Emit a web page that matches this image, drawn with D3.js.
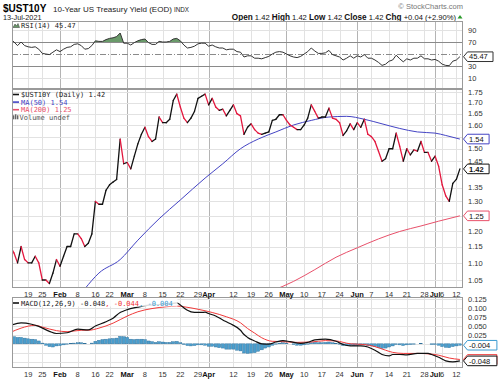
<!DOCTYPE html>
<html><head><meta charset="utf-8">
<script src="https://cdn.jsdelivr.net/npm/d3@7"></script>
<style>body{margin:0;background:#fff}svg{display:block}</style>
</head><body>
<svg id="c" width="500" height="379"></svg>
<script>
// ---------------- DATA ----------------
const dates = [
"2021-01-11","2021-01-12","2021-01-13","2021-01-14","2021-01-15","2021-01-19","2021-01-20","2021-01-21","2021-01-22","2021-01-25","2021-01-26","2021-01-27","2021-01-28","2021-01-29",
"2021-02-01","2021-02-02","2021-02-03","2021-02-04","2021-02-05","2021-02-08","2021-02-09","2021-02-10","2021-02-11","2021-02-12","2021-02-16","2021-02-17","2021-02-18","2021-02-19","2021-02-22","2021-02-23","2021-02-24","2021-02-25","2021-02-26",
"2021-03-01","2021-03-02","2021-03-03","2021-03-04","2021-03-05","2021-03-08","2021-03-09","2021-03-10","2021-03-11","2021-03-12","2021-03-15","2021-03-16","2021-03-17","2021-03-18","2021-03-19","2021-03-22","2021-03-23","2021-03-24","2021-03-25","2021-03-26","2021-03-29","2021-03-30","2021-03-31",
"2021-04-01","2021-04-02","2021-04-05","2021-04-06","2021-04-07","2021-04-08","2021-04-09","2021-04-12","2021-04-13","2021-04-14","2021-04-15","2021-04-16","2021-04-19","2021-04-20","2021-04-21","2021-04-22","2021-04-23","2021-04-26","2021-04-27","2021-04-28","2021-04-29","2021-04-30",
"2021-05-03","2021-05-04","2021-05-05","2021-05-06","2021-05-07","2021-05-10","2021-05-11","2021-05-12","2021-05-13","2021-05-14","2021-05-17","2021-05-18","2021-05-19","2021-05-20","2021-05-21","2021-05-24","2021-05-25","2021-05-26","2021-05-27","2021-05-28",
"2021-06-01","2021-06-02","2021-06-03","2021-06-04","2021-06-07","2021-06-08","2021-06-09","2021-06-10","2021-06-11","2021-06-14","2021-06-15","2021-06-16","2021-06-17","2021-06-18","2021-06-21","2021-06-22","2021-06-23","2021-06-24","2021-06-25","2021-06-28","2021-06-29","2021-06-30",
"2021-07-01","2021-07-02","2021-07-06","2021-07-07","2021-07-08","2021-07-09","2021-07-12","2021-07-13"];

const closeValues = [
1.15,1.13,1.10,1.15,1.11,1.10,1.10,1.12,1.10,1.05,1.05,1.04,1.07,1.11,
1.09,1.12,1.15,1.15,1.19,1.19,1.175,1.15,1.16,1.19,1.30,1.29,1.29,1.34,1.36,1.37,1.38,1.54,1.44,
1.445,1.42,1.47,1.52,1.56,1.59,1.55,1.53,1.54,1.635,1.61,1.61,1.625,1.71,1.74,1.68,1.63,1.61,1.63,1.66,1.72,1.73,1.74,
1.69,1.72,1.68,1.665,1.67,1.64,1.665,1.69,1.65,1.64,1.56,1.59,1.605,1.58,1.565,1.56,1.565,1.57,1.62,1.625,1.645,1.645,
1.62,1.60,1.59,1.58,1.58,1.60,1.63,1.69,1.66,1.63,1.635,1.635,1.675,1.63,1.625,1.61,1.555,1.575,1.605,1.58,
1.61,1.59,1.625,1.56,1.55,1.53,1.49,1.45,1.46,1.50,1.50,1.565,1.51,1.45,1.50,1.475,1.495,1.49,1.53,1.485,1.485,1.45,
1.47,1.43,1.36,1.32,1.30,1.365,1.38,1.42];

const rsiValues = [
75,70,64,70,64,62,61,62,58,51,50,49,53,57,
54,58,61,62,66,67,64,58,59,64,72,71,71,74,76,77,79,85,68,
68,65,69,72,74,75,69,66,66,71,70,70,71,75,76,72,65,60,61,63,67,68,68,
63,65,62,60,60,57,58,58,54,53,45,47,47,43,43,42,44,46,50,53,54,53,
50,47,45,44,46,50,54,60,55,51,51,52,56,49,47,45,40,43,47,43,
47,45,49,43,43,40,36,31,33,38,40,48,42,37,42,40,43,43,47,42,42,40,
41,38,33,31,30.5,38,40,45.47];

const ma50Dates  = ["2021-02-10","2021-02-17","2021-02-25","2021-03-04","2021-03-12","2021-03-22","2021-03-31","2021-04-07","2021-04-14","2021-04-21","2021-04-28","2021-05-05","2021-05-12","2021-05-19","2021-05-26","2021-06-03","2021-06-10","2021-06-17","2021-06-24","2021-07-01","2021-07-07","2021-07-13"];
const ma50Values = [1.025,1.07,1.11,1.17,1.24,1.305,1.385,1.44,1.50,1.54,1.57,1.60,1.62,1.635,1.638,1.625,1.605,1.585,1.57,1.565,1.555,1.54];

const ma200Dates  = ["2021-04-27","2021-05-05","2021-05-13","2021-05-21","2021-06-01","2021-06-09","2021-06-17","2021-06-25","2021-07-02","2021-07-13"];
const ma200Values = [1.02,1.046,1.08,1.117,1.146,1.174,1.198,1.216,1.232,1.25];

const macdDates = ["2021-01-11","2021-01-14","2021-01-20","2021-01-22","2021-01-27","2021-01-29","2021-02-03","2021-02-08","2021-02-11","2021-02-16","2021-02-19","2021-02-23","2021-02-25","2021-02-26","2021-03-01","2021-03-04","2021-03-08","2021-03-12","2021-03-17","2021-03-19","2021-03-22","2021-03-23","2021-03-24","2021-03-26","2021-03-30","2021-03-31","2021-04-01","2021-04-05","2021-04-07","2021-04-09","2021-04-14","2021-04-15","2021-04-16","2021-04-20","2021-04-22","2021-04-26","2021-04-28","2021-04-30","2021-05-04","2021-05-07","2021-05-11","2021-05-13","2021-05-18","2021-05-21","2021-05-25","2021-05-27","2021-06-02","2021-06-04","2021-06-08","2021-06-10","2021-06-14","2021-06-15","2021-06-17","2021-06-21","2021-06-24","2021-06-29","2021-06-30","2021-07-02","2021-07-07","2021-07-09","2021-07-13"];
const macdValues = [0.052,0.059,0.055,0.049,0.035,0.029,0.031,0.041,0.039,0.050,0.062,0.072,0.088,0.092,0.096,0.103,0.107,0.110,0.112,0.115,0.109,0.101,0.094,0.088,0.088,0.089,0.085,0.078,0.067,0.057,0.038,0.026,0.018,0.008,0.000,-0.001,0.005,0.009,0.006,0.001,0.004,0.011,0.013,0.007,-0.002,-0.006,-0.006,-0.009,-0.018,-0.030,-0.034,-0.030,-0.030,-0.031,-0.027,-0.027,-0.030,-0.038,-0.048,-0.051,-0.048];

const signalDates = ["2021-01-11","2021-01-14","2021-01-21","2021-01-25","2021-01-29","2021-02-03","2021-02-09","2021-02-11","2021-02-17","2021-02-23","2021-03-01","2021-03-04","2021-03-10","2021-03-16","2021-03-19","2021-03-23","2021-03-29","2021-04-02","2021-04-08","2021-04-14","2021-04-16","2021-04-20","2021-04-22","2021-04-27","2021-04-30","2021-05-06","2021-05-12","2021-05-18","2021-05-21","2021-05-27","2021-06-03","2021-06-08","2021-06-11","2021-06-15","2021-06-18","2021-06-24","2021-06-30","2021-07-02","2021-07-08","2021-07-13"];
const signalValues = [0.032,0.044,0.052,0.047,0.037,0.034,0.038,0.038,0.044,0.058,0.078,0.090,0.099,0.104,0.106,0.104,0.097,0.088,0.076,0.059,0.043,0.030,0.017,0.007,0.006,0.004,0.005,0.009,0.008,0.000,-0.002,-0.008,-0.018,-0.024,-0.027,-0.027,-0.029,-0.032,-0.040,-0.044];

const histValues = [
0.020,0.020,0.018,0.018,0.016,0.014,0.013,0.012,0.008,0.002,-0.004,-0.008,-0.009,-0.006,
-0.005,-0.003,-0.001,0.001,0.002,0.003,0.003,0.001,0.000,0.002,0.007,0.010,0.012,0.013,0.014,0.015,0.016,0.021,0.020,
0.018,0.013,0.012,0.013,0.013,0.012,0.008,0.006,0.004,0.006,0.005,0.004,0.004,0.006,0.007,0.003,-0.002,-0.005,-0.006,-0.005,-0.003,-0.003,-0.004,
-0.007,-0.007,-0.009,-0.011,-0.012,-0.015,-0.015,-0.015,-0.018,-0.020,-0.026,-0.027,-0.026,-0.025,-0.021,-0.017,-0.012,-0.009,-0.004,-0.001,0.002,0.003,
0.002,0.000,-0.002,-0.004,-0.004,-0.003,-0.001,0.003,0.004,0.003,0.003,0.004,0.005,0.003,0.001,-0.001,-0.005,-0.005,-0.004,-0.005,
-0.004,-0.003,-0.002,-0.005,-0.006,-0.008,-0.011,-0.013,-0.012,-0.009,-0.006,-0.002,-0.003,-0.005,-0.003,-0.002,-0.001,0.000,0.001,0.000,0.000,-0.002,
-0.002,-0.004,-0.008,-0.010,-0.011,-0.008,-0.006,-0.004];

const tickDates  = ["2021-01-19","2021-01-25","2021-02-01","2021-02-08","2021-02-16","2021-02-22","2021-03-01","2021-03-08","2021-03-15","2021-03-22","2021-03-29","2021-04-01","2021-04-12","2021-04-19","2021-04-26","2021-05-03","2021-05-10","2021-05-17","2021-05-24","2021-06-01","2021-06-07","2021-06-14","2021-06-21","2021-06-28","2021-07-01","2021-07-06","2021-07-12"];
const tickLabels = ["19","25","Feb","8","16","22","Mar","8","15","22","29","Apr","12","19","26","May","10","17","24","Jun","7","14","21","28","Jul","6","12"];

const priceTicks = [1.05,1.10,1.15,1.20,1.25,1.30,1.35,1.40,1.45,1.50,1.55,1.60,1.65,1.70,1.75];
const rsiTicks = [10,30,50,70,90];
const macdTicks = [-0.05,-0.025,0,0.025,0.05,0.075,0.10,0.125];

const lastClose = 1.42, lastMa50 = 1.54, lastMa200 = 1.25, lastRsi = 45.47;
const lastMacd = -0.048, lastSignal = -0.044, lastHist = -0.004;

// ---------------- DRAW ----------------
const svg = d3.select("#c");
const FONT = "'Liberation Sans', Arial, sans-serif";
const LFONT = "'DejaVu Sans Mono', monospace";
const L = 12, R = 463;
const P = { rsi:[21,89], main:[89,288], macd:[297,368] };
const idx = new Map(dates.map((d,i)=>[d,i]));
const x = d3.scaleLinear().domain([0.433,127.88]).range([L,R]);
const xd = d => x(idx.get(d));
const yP = d3.scaleLog().domain([1.05,1.75]).range([280,92]);
const yR = d3.scaleLinear().domain([10,90]).range([78,30]);
const yM = d3.scaleLinear().domain([-0.05,0.125]).range([361.6,299.3]);

const RED = "#e3173e", BLUE = "#4444c4", MA200C = "#e8506a", SIG = "#f03a3a", HIST = "#4a9dcc";

const defs = svg.append("defs");
Object.entries(P).forEach(([k,[t,b]]) => {
  defs.append("clipPath").attr("id","clip-"+k).append("rect").attr("x",L).attr("y",t).attr("width",R-L).attr("height",b-t);
});
defs.append("clipPath").attr("id","clip-rsi70").append("rect").attr("x",L).attr("y",P.rsi[0]).attr("width",R-L).attr("height",yR(70)-P.rsi[0]);

// header
svg.append("text").attr("x",3).attr("y",11.5).attr("font-family",FONT).attr("font-size",10).attr("font-weight","bold").text("$UST10Y");
svg.append("text").attr("x",53).attr("y",11.5).attr("font-family",FONT).attr("font-size",8).attr("fill","#222").text("10-Year US Treasury Yield (EOD)");
svg.append("text").attr("x",174).attr("y",11.5).attr("font-family",FONT).attr("font-size",6.3).attr("fill","#222").text("INDX");
svg.append("text").attr("x",3).attr("y",20).attr("font-family",FONT).attr("font-size",7.3).attr("fill","#222").text("13-Jul-2021");
svg.append("text").attr("x",463).attr("y",9).attr("text-anchor","end").attr("font-family",FONT).attr("font-size",7.5).attr("fill","#777").text("© StockCharts.com");
const ohlc = svg.append("text").attr("x",456).attr("y",19.5).attr("text-anchor","end").attr("font-family",FONT).attr("font-size",8).attr("fill","#111");
[["Open",1],[" 1.42 ",0],["High",1],[" 1.42 ",0],["Low",1],[" 1.42 ",0],["Close",1],[" 1.42 ",0],["Chg",1],[" +0.04 (+2.90%)",0]]
  .forEach(([t,b]) => ohlc.append("tspan").attr("font-weight", b?"bold":"normal").attr("font-size", b?8.2:7.6).text(t));
svg.append("path").attr("d","M457.5,18.5 L462.5,18.5 L460,15 Z").attr("fill","#2a9a2a");

// panels backgrounds + grids
function vgrid(g, k) {
  const [t,b] = P[k];
  g.selectAll(null).data(tickDates).join("line")
    .attr("x1",d=>Math.round(xd(d))+0.5).attr("x2",d=>Math.round(xd(d))+0.5).attr("y1",t).attr("y2",b)
    .attr("stroke",(d,i)=>isNaN(+tickLabels[i])?"#b4b4b4":"#e2e2e2").attr("stroke-width",1);
}
function hgrid(g, ticks, y) {
  g.selectAll(null).data(ticks).join("line")
    .attr("x1",L).attr("x2",R).attr("y1",d=>Math.round(y(d))+0.5).attr("y2",d=>Math.round(y(d))+0.5)
    .attr("stroke","#e2e2e2");
}
const gR = svg.append("g"), gMn = svg.append("g"), gMc = svg.append("g");
[["rsi",gR],["main",gMn],["macd",gMc]].forEach(([k,g]) => {
  g.append("rect").attr("x",L).attr("y",P[k][0]).attr("width",R-L).attr("height",P[k][1]-P[k][0]).attr("fill","#fff");
  vgrid(g,k);
});
hgrid(gR,[10,90],yR);
hgrid(gMn,priceTicks,yP);
hgrid(gMc,macdTicks,yM);

// ---- RSI ----
const cR = gR.append("g").attr("clip-path","url(#clip-rsi)");
cR.selectAll(null).data([30,70]).join("line").attr("x1",L).attr("x2",R)
  .attr("y1",d=>Math.round(yR(d))+0.5).attr("y2",d=>Math.round(yR(d))+0.5).attr("stroke","#8a8a8a");
cR.append("line").attr("x1",L).attr("x2",R).attr("y1",Math.round(yR(50))+0.5).attr("y2",Math.round(yR(50))+0.5)
  .attr("stroke","#8a8a8a").attr("stroke-dasharray","6,2,1,2");
cR.append("path").attr("clip-path","url(#clip-rsi70)")
  .attr("d", d3.area().x((d,i)=>x(i)).y0(yR(70)).y1(d=>yR(d))(rsiValues))
  .attr("fill","#6a9a6a");
cR.append("path").attr("d", d3.line().x((d,i)=>x(i)).y(d=>yR(d))(rsiValues))
  .attr("fill","none").attr("stroke","#333").attr("stroke-width",1);

// ---- MAIN ----
const cM = gMn.append("g").attr("clip-path","url(#clip-main)");
const smooth = d3.line().curve(d3.curveMonotoneX).x(d=>d[0]).y(d=>d[1]);
cM.append("path").attr("d", smooth(ma200Dates.map((d,i)=>[xd(d), yP(ma200Values[i])]))).attr("fill","none").attr("stroke",MA200C).attr("stroke-width",1);
cM.append("path").attr("d", smooth(ma50Dates.map((d,i)=>[xd(d), yP(ma50Values[i])]))).attr("fill","none").attr("stroke",BLUE).attr("stroke-width",1);
const pairs = d3.range(1, closeValues.length).map(i => ({i, a:closeValues[i-1], b:closeValues[i]}));
cM.selectAll(null).data(pairs).join("line")
  .attr("x1",d=>x(d.i-1)).attr("y1",d=>yP(d.a)).attr("x2",d=>x(d.i)).attr("y2",d=>yP(d.b))
  .attr("stroke",d=>d.b>=d.a?"#111":RED).attr("stroke-width",1.3).attr("stroke-linecap","round");

// legend main
const lg = gMn.append("g").attr("font-family",LFONT).attr("font-size",7);
const lgItems = [["$UST10Y (Daily) 1.42","#111","#222"],["MA(50) 1.54",BLUE,BLUE],["MA(200) 1.25",MA200C,MA200C]];
lgItems.forEach(([t,c,tc],i) => {
  const yy = 94.5 + i*7.6;
  lg.append("line").attr("x1",13).attr("x2",19).attr("y1",yy).attr("y2",yy).attr("stroke",c).attr("stroke-width",1.6);
  lg.append("text").attr("x",21).attr("y",yy+2.5).attr("fill",tc).text(t);
});
{
  const yy = 94.5 + 3*7.6;
  [0,2,4].forEach((o,j)=> lg.append("rect").attr("x",13+o).attr("y",yy-2+(j===1?-1:0)).attr("width",1.4).attr("height",4+(j===1?1:0)).attr("fill","#666"));
  lg.append("text").attr("x",19.5).attr("y",yy+2.5).attr("fill","#555").text("Volume undef");
}

// ---- MACD ----
const cC = gMc.append("g").attr("clip-path","url(#clip-macd)");
cC.selectAll(null).data(histValues).join("rect")
  .attr("x",(d,i)=>x(i)-1.5).attr("width",3)
  .attr("y",d=>Math.min(yM(0),yM(d))).attr("height",d=>Math.abs(yM(d)-yM(0)))
  .attr("fill",HIST).attr("stroke","#2f6f9a").attr("stroke-width",0.4);
cC.append("path").attr("d", smooth(signalDates.map((d,i)=>[xd(d), yM(signalValues[i])])))
  .attr("fill","none").attr("stroke",SIG).attr("stroke-width",1);
cC.append("path").attr("d", smooth(macdDates.map((d,i)=>[xd(d), yM(macdValues[i])])))
  .attr("fill","none").attr("stroke","#111").attr("stroke-width",1.2);
// macd legend
gMc.append("rect").attr("x",L+0.5).attr("y",P.macd[0]+0.5).attr("width",165).attr("height",9).attr("fill","#fff").attr("opacity",0.85);
gMc.append("line").attr("x1",13).attr("x2",19).attr("y1",303).attr("y2",303).attr("stroke","#111").attr("stroke-width",1.6);
const mt = gMc.append("text").attr("x",21).attr("y",305.5).attr("font-family",LFONT).attr("font-size",7);
mt.append("tspan").attr("fill","#222").text("MACD(12,26,9) -0.048");
mt.append("tspan").attr("fill","#f03030").text(", -0.044");
mt.append("tspan").attr("fill","#3a9ad0").text(", -0.004");

// RSI label
gR.append("path").attr("d","M13,27.5 L15,24 L16.5,26 L18,23.5 L19.5,27.5 Z").attr("fill","#6a9a6a").attr("stroke","#333").attr("stroke-width",0.5);
gR.append("text").attr("x",21).attr("y",27.8).attr("font-family",LFONT).attr("font-size",7).attr("fill","#222").text("RSI(14) " + lastRsi.toFixed(2));

// borders
Object.values(P).forEach(([t,b]) => svg.append("rect").attr("x",L+0.5).attr("y",t+0.5).attr("width",R-L-1).attr("height",b-t-1).attr("fill","none").attr("stroke","#9a9a9a"));

// right axis labels (labels covered by a value tag are left out, as in the reference)
const tagYs = [yR(lastRsi), yP(lastMa50), yP(lastClose), yP(lastMa200), yM(lastHist), yM(lastMacd), yM(lastSignal)];
const free = y => tagYs.every(t => Math.abs(t - y) > 7.5);
const ax = svg.append("g").attr("font-family",FONT).attr("font-size",7.5).attr("fill","#333");
ax.selectAll(null).data(rsiTicks.filter(d=>free(yR(d)))).join("text").attr("x",468).attr("y",d=>yR(d)+2.7).text(d=>d);
ax.selectAll(null).data(priceTicks.filter(d=>free(yP(d)))).join("text").attr("x",468).attr("y",d=>yP(d)+2.7).text(d=>d.toFixed(2));
ax.selectAll(null).data(macdTicks.filter(d=>free(yM(d)))).join("text").attr("x",468).attr("y",d=>yM(d)+2.7).text(d=>d3.format(".3f")(d).replace("−","-"));

// x axis labels
[294.5, 374].forEach(yy => {
  svg.append("g").attr("font-family",FONT).attr("font-size",7.5)
    .selectAll(null).data(tickDates).join("text")
    .attr("x",d=>xd(d)).attr("y",yy+2.7).attr("text-anchor","middle")
    .attr("font-weight",(d,i)=>isNaN(+tickLabels[i])?"bold":"normal")
    .attr("fill",(d,i)=>isNaN(+tickLabels[i])?"#111":"#333")
    .text((d,i)=>tickLabels[i]);
});

// value tags
function tagShape(y, w, color) {
  svg.append("path").attr("d",`M463.5,${y} L467.5,${y-4.8} L${467.5+w},${y-4.8} L${467.5+w},${y+4.8} L467.5,${y+4.8} Z`)
    .attr("fill","#fff").attr("stroke",color).attr("stroke-width",1);
}
function tag(y, t, color, bold) {
  tagShape(y, t.length*3.9 + 6, color);
  svg.append("text").attr("x",469).attr("y",y+2.7).attr("font-family",FONT).attr("font-size",7.5)
    .attr("font-weight",bold?"bold":"normal").attr("fill","#111").text(t);
}
tag(yR(lastRsi), lastRsi.toFixed(2), "#333");
tag(yP(lastMa50), lastMa50.toFixed(2), BLUE);
tag(yP(lastClose), lastClose.toFixed(2), "#111", true);
tag(yP(lastMa200), lastMa200.toFixed(2), MA200C);
tag(yM(lastHist), lastHist.toFixed(3), "#3a9ad0");
tagShape(yM(lastSignal), lastSignal.toFixed(3).length*3.9 + 6, SIG); // signal tag sits behind the MACD tag
tag(yM(lastMacd), lastMacd.toFixed(3), "#111");
</script>
</body></html>
